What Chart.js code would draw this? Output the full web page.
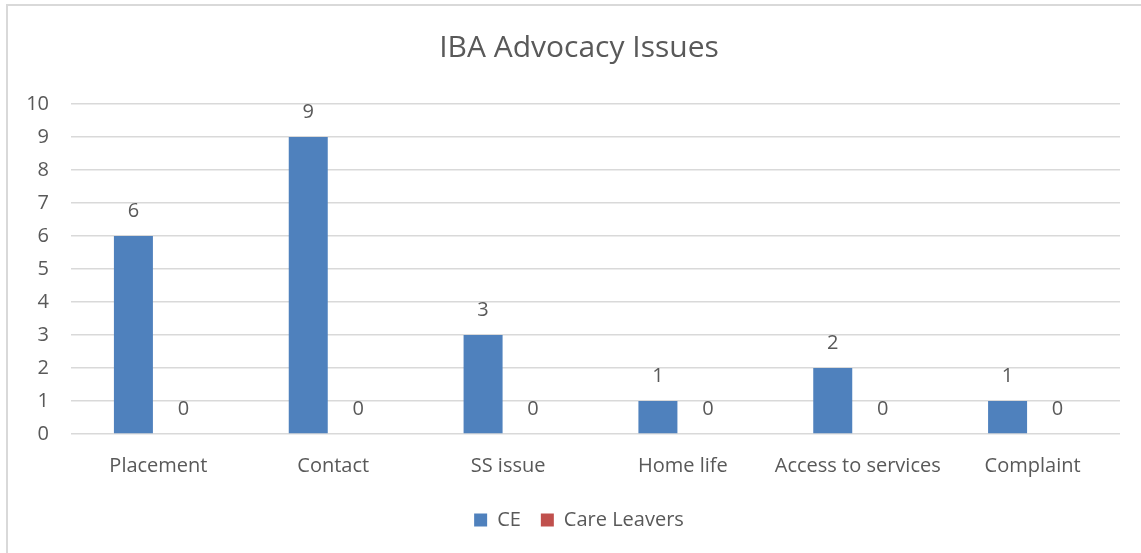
<!DOCTYPE html>
<html>
<head>
<meta charset="utf-8">
<script src="https://cdn.jsdelivr.net/npm/chart.js@4"></script>
<style>
  html, body { margin: 0; padding: 0; background: #fff; overflow: hidden; }
  .frame { position: absolute; left: 6px; top: 4px; width: 1150px; height: 560px; border: 2px solid #d9d9d9; }
  .wrap { position: absolute; left: 0; top: 0; width: 1158px; height: 553px; }
</style>
</head>
<body>
<div class="frame"></div>
<div class="wrap"><canvas id="chart"></canvas></div>
<script>
const categories = ['Placement', 'Contact', 'SS issue', 'Home life', 'Access to services', 'Complaint'];
const ceValues = [6, 9, 3, 1, 2, 1];
const careLeaverValues = [0, 0, 0, 0, 0, 0];
const yTicks = [0, 1, 2, 3, 4, 5, 6, 7, 8, 9, 10];

const textColor = '#595959';
const fontFamily = '"Open Sans", sans-serif';

// draws the number above each bar, like Excel data labels
const valueLabels = {
  id: 'valueLabels',
  afterDatasetsDraw(chart) {
    const ctx = chart.ctx;
    ctx.save();
    ctx.font = '20px ' + fontFamily;
    ctx.fillStyle = textColor;
    ctx.textAlign = 'center';
    ctx.textBaseline = 'middle';
    chart.data.datasets.forEach((ds, i) => {
      const meta = chart.getDatasetMeta(i);
      meta.data.forEach((bar, j) => {
        ctx.fillText(String(ds.data[j]), bar.x, bar.y - 25);
      });
    });
    ctx.restore();
  }
};

new Chart(document.getElementById('chart'), {
  type: 'bar',
  data: {
    labels: categories,
    datasets: [
      { label: 'CE', data: ceValues, backgroundColor: '#4f81bd' },
      { label: 'Care Leavers', data: careLeaverValues, backgroundColor: '#c0504d' }
    ]
  },
  options: {
    responsive: true,
    maintainAspectRatio: false,
    animation: false,
    categoryPercentage: 0.572,
    barPercentage: 0.78,
    layout: { padding: { left: 0, right: 0, top: 0, bottom: 13 } },
    plugins: {
      title: {
        display: true,
        text: 'IBA Advocacy Issues',
        color: textColor,
        font: { family: fontFamily, size: 30, weight: 'normal' },
        padding: { top: 30, bottom: 38 }
      },
      legend: {
        position: 'bottom',
        labels: {
          color: textColor,
          font: { family: fontFamily, size: 20 },
          boxWidth: 13,
          boxHeight: 13,
          padding: 20
        }
      },
      tooltip: { enabled: false }
    },
    scales: {
      x: {
        grid: { display: false },
        border: { display: false },
        ticks: { color: textColor, font: { family: fontFamily, size: 20 }, padding: 12, maxRotation: 0 }
      },
      y: {
        min: 0,
        max: 10,
        afterFit(scale) { scale.width = 71; },
        afterBuildTicks(scale) { scale.ticks = yTicks.map(v => ({ value: v })); },
        grid: { color: '#d9d9d9', lineWidth: 1.5, drawTicks: false },
        border: { display: false },
        ticks: { color: textColor, font: { family: fontFamily, size: 20 }, padding: 22 }
      },
      // empty right-hand spacer so the plot ends before the frame's centre line shifts
      yRight: {
        position: 'right',
        min: 0,
        max: 10,
        afterFit(scale) { scale.width = 38; },
        grid: { display: false },
        border: { display: false },
        ticks: { display: false }
      }
    }
  },
  plugins: [valueLabels]
});
</script>
</body>
</html>
